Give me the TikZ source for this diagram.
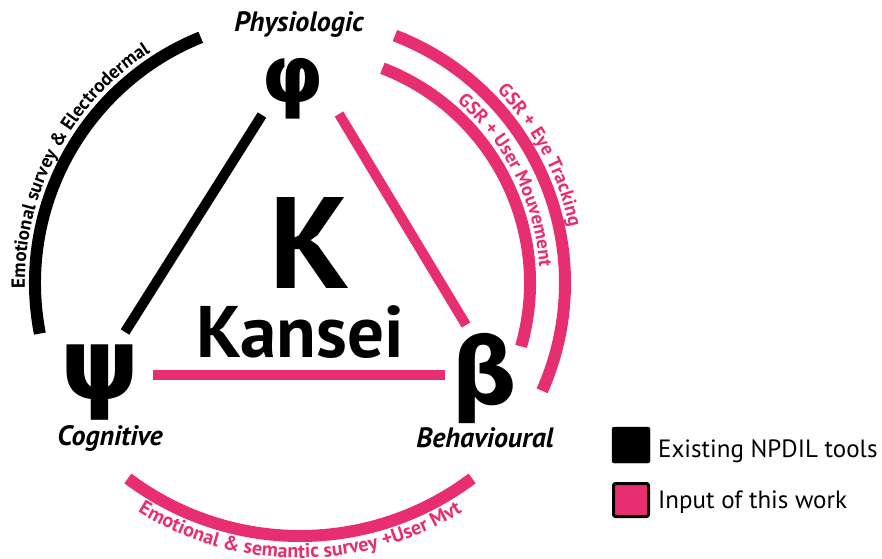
\documentclass[tikz,border=0pt]{standalone}
\usepackage{fontspec}
\setmainfont{PT Sans}
\newfontfamily\gkfont{DejaVu Sans}
\usetikzlibrary{decorations.text}
\definecolor{kpink}{RGB}{230,46,112}
\newcommand\arcblack{\bfseries\fontsize{19}{19}\selectfont}
\newcommand\arcpink{\color{kpink}\bfseries\fontsize{19}{19}\selectfont}
\newcommand\arcpinkb{\color{kpink}\bfseries\fontsize{20}{20}\selectfont}
\begin{document}
\begin{tikzpicture}[x=1pt,y=1pt]
\tikzset{
  blackline/.style={line width=10pt, draw=black},
  pinkline/.style={line width=10pt, draw=kpink},
  blackarc/.style={line width=12pt, draw=black},
  pinkarc/.style={line width=12pt, draw=kpink},
  greek/.style={inner sep=0pt, font=\gkfont\bfseries\fontsize{#1}{#1}\selectfont},
  vlabel/.style={inner sep=0pt, anchor=base, font=\bfseries\itshape\fontsize{28}{28}\selectfont},
  legtext/.style={inner sep=0pt, anchor=base west, font=\fontsize{25}{25}\selectfont},
  legbox/.style={rounded corners=2pt}
}
\useasboundingbox (0,0) rectangle (882,558);
\coordinate (C) at (300,275);
\coordinate (Cb) at (300,308);

% vertices
\node[greek=80] (phi) at (293,469) {φ};
\node[greek=100] (psi) at (100,175) {ψ};
\node[greek=92] (beta) at (484,180) {β};

\node[vlabel] (lphys) at (299,526) {Physiologic};
\node[vlabel] (lcog) at (110,113) {Cognitive};
\node[vlabel] (lbeh) at (485,111) {Behavioural};

\node[inner sep=0pt, anchor=base, font=\bfseries\fontsize{130}{130}\selectfont] (kbig) at (310,270) {K};
\node[inner sep=0pt, anchor=base, font=\bfseries\fontsize{73}{73}\selectfont] (kansei) at (300,201) {Kansei};

% triangle sides
\draw[blackline] ([shift={(-31,-26)}]phi.center) -- ([shift={(25,51)}]psi.center);
\draw[pinkline] ([shift={(46,-25)}]phi.center) -- ([shift={(-18,53)}]beta.center);
\draw[pinkline] ([shift={(53,8)}]psi.center) -- ([shift={(-39,3)}]beta.center);

% arcs
\draw[blackarc] ([shift={(112:265)}]C) arc[start angle=112, end angle=191, radius=265];
\draw[pinkarc] ([shift={(69:265)}]C) arc[start angle=69, end angle=-24, radius=265];
\draw[pinkarc] ([shift={(69:230)}]C) arc[start angle=69, end angle=-16, radius=230];
\draw[pinkarc] ([shift={(233:286)}]Cb) arc[start angle=233, end angle=307, radius=286];

% arc texts
\path[decorate, decoration={text along path, text align=center,
  text={|\arcblack|Emotional survey {\&} Electrodermal}}]
  ([shift={(186:275)}]C) arc[start angle=186, end angle=118, radius=275];
\path[decorate, decoration={text along path, text align=center,
  text={|\arcpink|GSR + Eye Tracking}}]
  ([shift={(49:275)}]C) arc[start angle=49, end angle=7, radius=275];
\path[decorate, decoration={text along path, text align=center,
  text={|\arcpink|GSR + User Mouvement}}]
  ([shift={(55:240)}]C) arc[start angle=55, end angle=-2, radius=240];
\path[decorate, decoration={text along path, text align=center,
  text={|\arcpinkb|Emotional {\&} semantic survey +User Mvt}}]
  ([shift={(234:308)}]Cb) arc[start angle=234, end angle=306, radius=308];

% legend
\filldraw[legbox, fill=black, draw=black] (612,95) rectangle (650,131);
\node[legtext] (leg1) at (658,101) {Existing NPDIL tools};
\filldraw[legbox, fill=kpink, draw=black, line width=3pt] (613.5,41.5) rectangle (648.5,74.5);
\node[legtext] (leg2) at (658,50) {Input of this work};
\end{tikzpicture}
\end{document}
